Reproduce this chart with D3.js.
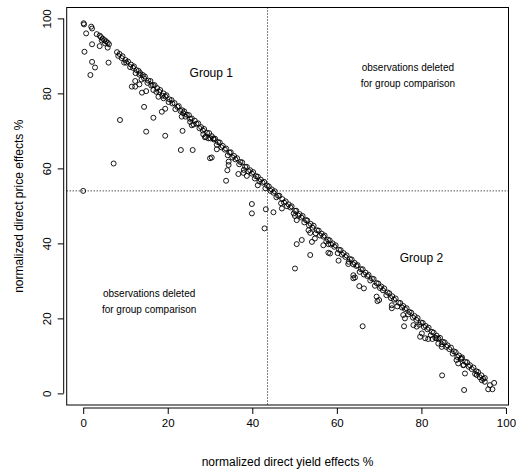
<!DOCTYPE html>
<html>
<head>
<meta charset="utf-8">
<script src="https://cdn.jsdelivr.net/npm/d3@7"></script>
<style>
  body { margin: 0; background: #fff; }
  text { font-family: "Liberation Sans", Arial, sans-serif; fill: #000; }
</style>
</head>
<body>
<div id="chart"></div>
<script>
const width = 516;
const height = 470;

// [normalized direct yield effect %, normalized direct price effect %]
const observations = [
  // top left
  [0.1,98.7],[0.2,98.4],[1.9,97.8],[2.1,97.3],[3.2,95.8],[3.9,95.4],[4.2,95.0],[4.6,94.6],[5.0,94.2],[5.4,93.9],
  [5.8,93.5],[6.1,93.1],[4.4,94.1],[5.2,93.3],
  [0.7,96.0],[2.1,93.1],[3.9,92.6],[5.8,92.2],[0.3,91.1],[2.1,88.4],[2.8,86.9],[1.7,84.9],[6.0,88.2],
  // main band
  [8.0,91.0],[8.3,90.0],[8.6,90.5],[9.1,89.4],[9.3,89.9],[9.7,88.2],[10.0,88.9],[10.2,88.2],[10.6,88.5],[11.1,87.0],
  [11.3,87.7],[11.8,86.8],[12.0,87.2],[12.4,85.4],[12.6,86.2],[13.1,86.0],[13.3,85.0],[13.5,85.4],[13.8,83.7],[14.1,84.9],
  [14.4,84.0],[14.6,84.5],[15.2,82.8],[15.4,83.4],[15.9,83.3],[16.1,82.1],[16.5,82.2],[16.9,82.2],[17.3,80.4],[17.5,81.4],
  [18.0,80.4],[18.2,80.9],[18.7,79.4],[19.0,80.0],[19.4,79.2],[19.7,79.5],[20.2,77.7],[20.4,78.4],[20.9,78.2],[21.1,77.3],
  [21.6,77.4],[21.8,75.8],[22.3,76.4],[22.6,76.6],[23.0,75.3],[23.4,75.5],[23.9,75.2],[24.2,73.8],[24.5,74.3],[25.0,74.2],
  [25.3,73.2],[25.7,73.3],[26.1,71.7],[26.4,72.7],[26.8,71.9],[27.2,72.0],[27.5,70.7],[27.9,71.0],[28.3,70.1],[28.6,70.5],
  [29.0,68.4],[29.3,69.5],[29.8,69.4],[30.1,68.0],[30.4,68.6],[30.9,67.7],[31.2,67.9],[31.6,66.3],[31.9,67.0],[32.3,66.9],
  [32.7,65.6],[33.0,66.0],[33.5,65.0],[33.8,65.3],[34.2,63.5],[34.6,64.2],[34.9,64.3],[35.3,62.9],[35.7,63.3],[36.0,62.4],
  [36.4,62.7],[36.9,61.1],[37.2,61.7],[37.6,61.6],[38.0,59.6],[38.3,60.4],[38.7,60.4],[39.1,59.2],[39.5,59.5],[39.9,58.6],
  [40.2,59.0],[40.6,57.3],[40.9,57.9],[41.3,57.8],[41.7,56.5],[42.0,57.0],[42.4,56.2],[42.8,56.4],[43.1,54.7],[43.5,55.4],
  [43.9,55.2],[44.3,54.0],[44.6,54.4],[45.0,53.5],[45.3,53.9],[45.7,52.3],[46.1,52.7],[46.4,52.7],[46.8,50.7],[47.1,51.8],
  [47.5,50.9],[47.9,51.2],[48.2,49.9],[48.6,50.4],[49.0,49.6],[49.3,49.9],[49.8,48.0],[50.1,48.7],[50.4,48.7],[50.9,47.4],
  [51.2,47.8],[51.6,46.9],[51.9,47.3],[52.3,45.6],[52.7,46.2],[53.0,46.1],[53.4,44.8],[53.8,45.2],[54.2,44.2],[54.5,44.7],
  [55.0,42.7],[55.3,43.5],[55.7,43.4],[56.0,42.1],[56.4,42.6],[56.8,41.8],[57.1,42.1],[57.5,40.5],[57.9,41.0],[58.3,40.8],
  [58.6,39.7],[59.0,40.0],[59.4,39.1],[59.7,39.5],[60.2,37.4],[60.5,38.3],[60.9,38.2],[61.2,37.0],[61.6,37.4],[62.0,36.4],
  [62.3,36.8],[62.8,35.1],[63.1,35.8],[63.5,35.7],[63.9,34.4],[64.2,34.8],[64.6,34.0],[64.9,34.2],[65.4,32.4],[65.7,33.1],
  [66.1,33.1],[66.4,31.7],[66.8,32.2],[67.2,31.3],[67.5,31.6],[67.9,30.1],[68.3,30.6],[68.7,30.5],[69.0,28.7],[69.4,29.4],
  [69.8,29.3],[70.2,28.1],[70.5,28.5],[70.9,27.5],[71.2,28.0],[71.7,26.2],[72.0,26.9],[72.4,26.7],[72.8,25.4],[73.1,25.9],
  [73.5,25.0],[73.9,25.3],[74.3,23.2],[74.6,24.2],[75.0,24.1],[75.4,22.9],[75.7,23.3],[76.1,22.5],[76.5,22.7],[76.9,21.1],
  [77.2,21.7],[77.6,21.5],[78.0,20.2],[78.4,20.6],[78.8,19.6],[79.1,20.1],[79.5,18.3],[79.9,18.9],[80.3,18.8],[80.6,17.7],
  [81.0,18.0],[81.4,17.1],[81.7,17.5],[82.2,15.5],[82.5,16.4],[82.9,16.2],[83.3,14.8],[83.6,15.4],[84.0,14.6],[84.4,14.8],
  [84.8,13.1],[85.1,13.7],[85.5,13.6],[85.9,12.4],[86.2,12.8],[86.6,11.8],[87.0,12.2],[87.4,10.6],[87.7,11.2],[88.1,11.0],
  [88.5,9.7],[88.9,10.1],[89.3,9.2],[89.6,9.6],[90.0,7.6],[90.4,8.4],[90.8,8.3],[91.2,7.1],[91.5,7.5],[91.9,6.5],
  [92.3,6.9],[92.7,5.2],[93.0,5.9],[93.4,5.7],[93.8,4.3],[94.2,4.8],[94.6,3.9],[95.0,4.1],
  // below the band
  [12.3,83.3],[11.5,81.8],[12.3,81.8],[13.9,80.2],[14.9,80.6],[13.3,82.4],[14.4,76.4],[16.6,73.5],[8.7,72.9],[14.9,69.8],
  [16.6,80.9],[17.8,79.1],[19.0,78.7],[19.4,75.9],[18.6,75.1],[23.3,73.8],[23.7,74.7],[23.5,70.0],[19.4,68.7],[23.1,64.9],
  [25.9,64.9],[25.3,72.4],[25.7,71.5],[28.4,69.1],[28.8,68.3],[29.6,68.0],[30.8,68.0],[30.0,62.7],[30.4,62.9],[31.6,65.1],
  [34.4,61.8],[34.4,60.9],[34.1,59.5],[33.8,56.7],[36.7,58.5],[37.9,58.8],[38.7,58.0],[41.3,55.5],[39.9,50.5],[39.9,48.0],
  [43.2,49.1],[45.0,48.3],[42.9,44.0],[7.2,61.3],[0.0,54.0],
  [47.0,49.3],[50.5,46.2],[50.1,47.3],[51.7,40.9],[50.5,39.8],[53.7,36.9],[50.1,33.3],[54.8,41.3],[54.1,40.4],[53.3,43.5],
  [53.7,42.8],[56.8,39.5],[58.0,39.8],[58.4,37.3],[58.0,37.5],[60.4,35.4],[62.7,34.5],[63.9,31.5],[64.3,30.9],[63.9,30.7],
  [65.3,28.6],[66.4,28.0],[66.1,17.9],[69.4,25.8],[69.6,24.6],[70.0,24.9],[73.0,23.5],[73.0,22.7],[75.7,20.9],[76.1,20.0],
  [75.9,17.9],[78.1,18.2],[78.9,17.8],[79.7,15.1],[80.1,16.0],[80.9,14.7],[81.6,14.5],[82.6,14.5],[83.6,14.7],[84.0,13.3],
  [84.8,12.4],[84.9,4.8],[88.3,8.9],[89.5,9.3],[88.7,8.0],[89.9,7.5],[90.3,5.3],[90.1,0.9],[93.1,4.9],[94.3,3.5],
  [95.0,3.1],[95.8,1.1],[96.8,1.1],[96.2,2.2],[97.2,2.8]
];

const xTicks = [0, 20, 40, 60, 80, 100];
const yTicks = [0, 20, 40, 60, 80, 100];

// group split thresholds
const yieldCut = 43.6;
const priceCut = 54.0;

const xTitle = 'normalized direct yield effects %';
const yTitle = 'normalized direct price effects %';
const groupLabels = [
  {x: 30.3, y: 84.3, lines: ['Group 1'], size: 12},
  {x: 80.0, y: 35.0, lines: ['Group 2'], size: 12},
  {x: 76.8, y: 86.0, lines: ['observations deleted', 'for group comparison'], size: 10},
  {x: 15.6, y: 25.6, lines: ['observations deleted', 'for group comparison'], size: 10}
];

// plot box in data units (R style 4% extension)
const xLim = [-3.9, 100.6];
const yLim = [-3.1, 102.9];
const box = {left: 66.7, right: 508.5, top: 7.5, bottom: 405};

const x = d3.scaleLinear().domain(xLim).range([box.left, box.right]);
const y = d3.scaleLinear().domain(yLim).range([box.bottom, box.top]);

const svg = d3.select('#chart')
  .append('svg')
  .attr('width', width)
  .attr('height', height);

// dotted split lines
svg.append('line')
  .attr('x1', x(yieldCut)).attr('x2', x(yieldCut))
  .attr('y1', box.top).attr('y2', box.bottom)
  .attr('stroke', '#000')
  .attr('stroke-width', 1)
  .attr('stroke-dasharray', '1,2');

svg.append('line')
  .attr('x1', box.left).attr('x2', box.right)
  .attr('y1', y(priceCut)).attr('y2', y(priceCut))
  .attr('stroke', '#000')
  .attr('stroke-width', 1)
  .attr('stroke-dasharray', '1,2');

svg.append('g')
  .selectAll('circle')
  .data(observations)
  .join('circle')
  .attr('cx', d => x(d[0]))
  .attr('cy', d => y(d[1]))
  .attr('r', 2.5)
  .attr('fill', 'none')
  .attr('stroke', '#000')
  .attr('stroke-width', 0.9);

svg.append('rect')
  .attr('x', box.left)
  .attr('y', box.top)
  .attr('width', box.right - box.left)
  .attr('height', box.bottom - box.top)
  .attr('fill', 'none')
  .attr('stroke', '#000')
  .attr('stroke-width', 1);

const xAxis = svg.append('g')
  .attr('transform', `translate(0, ${box.bottom + 3})`)
  .call(d3.axisBottom(x).tickValues(xTicks).tickSize(6).tickPadding(5).tickSizeOuter(0));
xAxis.select('.domain').attr('d', `M${x(xTicks[0])},0H${x(xTicks[xTicks.length - 1])}`);
xAxis.selectAll('text')
  .style('font-size', '11.5px')
  .style('font-family', '"Liberation Sans", Arial, sans-serif');

const yAxis = svg.append('g')
  .attr('transform', `translate(${box.left - 3}, 0)`)
  .call(d3.axisLeft(y).tickValues(yTicks).tickSize(6).tickSizeOuter(0));
yAxis.select('.domain').attr('d', `M0,${y(yTicks[0])}V${y(yTicks[yTicks.length - 1])}`);
yAxis.selectAll('text')
  .attr('transform', 'rotate(-90)')
  .attr('x', 0)
  .attr('y', -13)
  .attr('dy', 0)
  .attr('text-anchor', 'middle')
  .style('font-size', '11.5px')
  .style('font-family', '"Liberation Sans", Arial, sans-serif');

svg.append('text')
  .attr('x', (box.left + box.right) / 2)
  .attr('y', 466)
  .attr('text-anchor', 'middle')
  .style('font-size', '12px')
  .text(xTitle);

svg.append('text')
  .attr('text-anchor', 'middle')
  .attr('transform', `translate(23, ${(box.top + box.bottom) / 2}) rotate(-90)`)
  .style('font-size', '12px')
  .text(yTitle);

groupLabels.forEach(g => {
  const t = svg.append('text')
    .attr('text-anchor', 'middle')
    .style('font-size', g.size + 'px');
  g.lines.forEach((line, i) => {
    t.append('tspan')
      .attr('x', x(g.x))
      .attr('y', y(g.y) + i * 16)
      .text(line);
  });
});
</script>
</body>
</html>
